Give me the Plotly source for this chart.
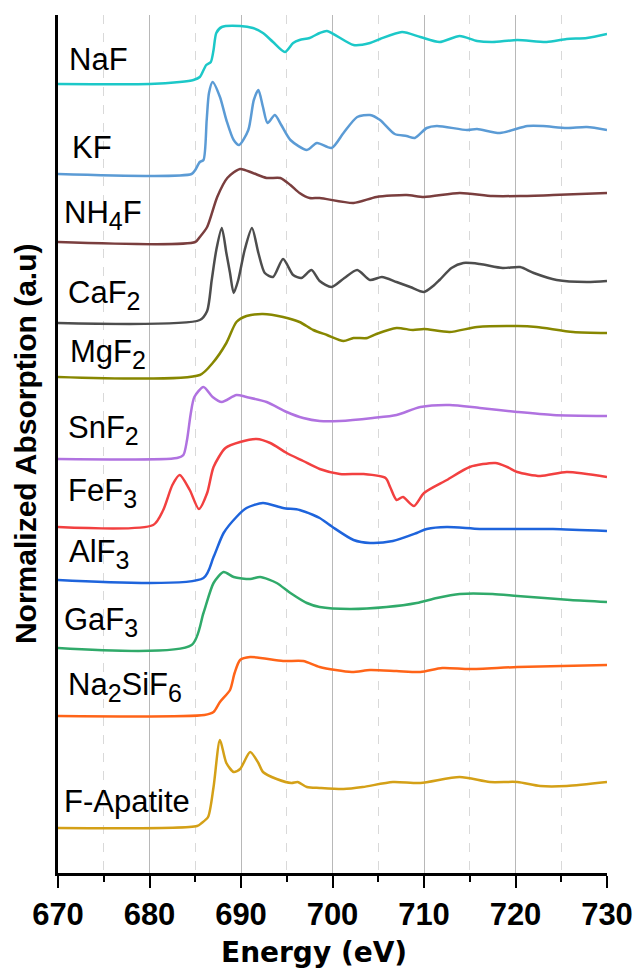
import plotly.graph_objects as go

# ---------------- data (energy in eV, normalized absorption relative to baseline) ----------------
SUB = '<sub><span style="font-size:25px">{}</span></sub>'
names = ['NaF', 'KF', 'NH' + SUB.format(4) + 'F', 'CaF' + SUB.format(2), 'MgF' + SUB.format(2),
         'SnF' + SUB.format(2), 'FeF' + SUB.format(3), 'AlF' + SUB.format(3), 'GaF' + SUB.format(3),
         'Na' + SUB.format(2) + 'SiF' + SUB.format(6), 'F-Apatite']
colors = ['#1CC8C8', '#5B9BD5', '#7A3E3E', '#4D4D4D', '#878700', '#B072E0',
          '#F24040', '#1E64DC', '#30AA6A', '#FF6418', '#D4A017']
offsets = [7.89, 6.99, 6.31, 5.50, 4.96, 4.14, 3.46, 2.93, 2.25, 1.57, 0.45]

naf_e = [670, 680, 683.3, 684.8, 685.5, 686.2, 686.7, 687.0, 687.3, 687.9, 689.9, 691.3, 692.4, 693.5, 694.8,
         695.7, 696.4, 697.5, 698.6, 699.4, 702.3, 704.1, 705.2, 707.6, 709.6, 711.7, 713.9, 715.8, 717.5,
         720.2, 723.4, 725.6, 727.8, 730]
naf_i = [0, 0, 0.02, 0.04, 0.07, 0.19, 0.22, 0.34, 0.51, 0.57, 0.58, 0.56, 0.51, 0.42, 0.32,
         0.41, 0.44, 0.46, 0.51, 0.53, 0.39, 0.41, 0.45, 0.52, 0.47, 0.42, 0.48, 0.43, 0.42,
         0.44, 0.42, 0.45, 0.46, 0.50]

kf_e = [670, 684.6, 685.0, 685.5, 685.9, 686.25, 686.5, 686.9, 687.7, 688.4, 689.2, 689.8, 690.8, 691.4,
        691.9, 692.4, 692.9, 693.7, 694.4, 695.4, 697.2, 698.3, 699.9, 701.2, 702.7, 704.1, 705.2, 706.8,
        708.1, 709.0, 710.3, 711.4, 714.7, 715.8, 718.3, 721.3, 723.0, 725.6, 727.8, 730]
kf_i = [0, 0, 0.04, 0.12, 0.14, 0.54, 0.81, 0.92, 0.77, 0.54, 0.34, 0.29, 0.44, 0.74,
        0.84, 0.67, 0.51, 0.59, 0.49, 0.34, 0.24, 0.31, 0.26, 0.41, 0.57, 0.59, 0.54, 0.40,
        0.38, 0.36, 0.46, 0.48, 0.44, 0.45, 0.41, 0.48, 0.48, 0.46, 0.47, 0.44]

nh4f_e = [670, 685.0, 685.5, 686.3, 687.4, 688.5, 689.9, 691.3, 692.8, 694.3, 695.4, 696.4, 697.5, 698.6,
          702.3, 704.8, 708.1, 710.0, 713.9, 717.5, 720.5, 724.1, 730]
nh4f_i = [0, 0, 0.05, 0.15, 0.45, 0.64, 0.73, 0.69, 0.64, 0.64, 0.57, 0.49, 0.44, 0.44,
          0.39, 0.45, 0.47, 0.45, 0.49, 0.46, 0.46, 0.47, 0.49]

caf2_e = [670, 685.5, 686.3, 686.8, 687.3, 687.9, 688.4, 688.8, 689.2, 689.7, 690.4, 691.2, 691.9, 692.6,
          693.5, 694.6, 695.7, 696.6, 697.7, 698.6, 699.9, 701.3, 702.7, 704.1, 705.4, 707.0, 708.5, 710.0,
          711.0, 711.7, 713.0, 714.3, 716.1, 718.6, 720.5, 722.0, 724.5, 727.8, 730]
caf2_i = [0, 0.03, 0.12, 0.43, 0.73, 0.95, 0.70, 0.50, 0.30, 0.43, 0.73, 0.95, 0.70, 0.50,
          0.46, 0.64, 0.48, 0.45, 0.53, 0.42, 0.36, 0.45, 0.53, 0.43, 0.46, 0.41, 0.36, 0.31,
          0.37, 0.43, 0.55, 0.60, 0.59, 0.55, 0.56, 0.50, 0.43, 0.41, 0.42]

mgf2_e = [670, 685.5, 686.9, 688.4, 689.5, 690.6, 692.4, 694.6, 696.4, 697.9, 699.4, 701.2, 702.3, 703.8,
          704.8, 707.0, 708.8, 710.0, 712.8, 715.8, 720.2, 722.3, 726.3, 730]
mgf2_i = [0, 0.02, 0.14, 0.34, 0.55, 0.61, 0.63, 0.60, 0.55, 0.47, 0.42, 0.36, 0.39, 0.39,
          0.43, 0.49, 0.47, 0.48, 0.45, 0.50, 0.51, 0.50, 0.45, 0.44]

snf2_e = [670, 683.0, 683.7, 684.1, 684.5, 684.9, 685.9, 686.9, 687.9, 689.5, 690.6, 692.8, 695.0, 696.8,
          698.6, 700.8, 704.4, 707.0, 709.6, 712.8, 716.1, 720.2, 724.1, 730]
snf2_i = [0, 0.01, 0.04, 0.19, 0.45, 0.62, 0.72, 0.62, 0.57, 0.64, 0.62, 0.57, 0.47, 0.41,
          0.38, 0.38, 0.41, 0.44, 0.52, 0.54, 0.51, 0.47, 0.44, 0.43]

fef3_e = [670, 680.4, 681.5, 682.5, 683.3, 684.4, 685.4, 686.3, 687.0, 688.3, 689.9, 691.7, 693.2, 695.0,
          696.8, 698.6, 700.8, 703.4, 705.8, 706.3, 707.0, 707.7, 708.9, 710.0, 712.5, 715.0, 717.8, 719.1,
          720.2, 722.7, 725.6, 730]
fef3_i = [0, 0.02, 0.17, 0.42, 0.52, 0.37, 0.18, 0.34, 0.60, 0.79, 0.85, 0.88, 0.84, 0.74,
          0.66, 0.58, 0.53, 0.53, 0.49, 0.40, 0.27, 0.30, 0.21, 0.34, 0.47, 0.60, 0.64, 0.60,
          0.55, 0.51, 0.55, 0.50]

alf3_e = [670, 685.9, 687.0, 688.1, 689.5, 690.6, 692.4, 694.6, 696.4, 697.9, 698.6, 700.0, 702.3, 704.1,
          706.6, 709.2, 710.3, 712.5, 716.1, 720.2, 724.1, 730]
alf3_i = [0, 0.02, 0.23, 0.47, 0.63, 0.72, 0.77, 0.72, 0.70, 0.65, 0.62, 0.53, 0.40, 0.37,
          0.39, 0.47, 0.51, 0.53, 0.51, 0.51, 0.51, 0.49]

gaf3_e = [670, 684.6, 685.9, 687.0, 688.1, 689.2, 691.0, 692.1, 693.9, 695.4, 697.2, 698.6, 701.9, 705.9,
          709.2, 711.4, 713.9, 717.5, 720.2, 726.0, 730]
gaf3_i = [0, 0.03, 0.35, 0.65, 0.76, 0.71, 0.69, 0.71, 0.65, 0.55, 0.45, 0.41, 0.39, 0.41,
          0.45, 0.50, 0.54, 0.54, 0.52, 0.48, 0.46]

na2sif6_e = [670, 686.0, 687.0, 687.7, 688.8, 689.3, 689.9, 691.0, 694.6, 696.8, 698.6, 702.1, 704.1,
             707.0, 709.6, 712.0, 715.0, 720.2, 730]
na2sif6_i = [0, 0.01, 0.04, 0.14, 0.26, 0.43, 0.56, 0.59, 0.55, 0.55, 0.49, 0.44, 0.46,
             0.45, 0.44, 0.48, 0.47, 0.49, 0.51]

fap_e = [670, 685.2, 685.7, 686.4, 687.0, 687.7, 688.4, 689.2, 689.9, 691.0, 691.9, 692.4, 693.9, 695.5,
         696.2, 697.2, 698.6, 701.2, 703.3, 706.6, 709.6, 713.9, 717.2, 720.2, 722.7, 725.6, 730]
fap_i = [0, 0.02, 0.05, 0.11, 0.41, 0.88, 0.65, 0.56, 0.59, 0.76, 0.65, 0.56, 0.49, 0.45,
         0.46, 0.41, 0.40, 0.39, 0.41, 0.46, 0.45, 0.51, 0.46, 0.46, 0.42, 0.42, 0.46]

energies = [naf_e, kf_e, nh4f_e, caf2_e, mgf2_e, snf2_e, fef3_e, alf3_e, gaf3_e, na2sif6_e, fap_e]
intens = [naf_i, kf_i, nh4f_i, caf2_i, mgf2_i, snf2_i, fef3_i, alf3_i, gaf3_i, na2sif6_i, fap_i]

# label anchor: left energy, vertical centre (a.u.)
label_x = [671.0, 671.3, 670.45, 670.9, 671.1, 670.9, 670.9, 671.0, 670.45, 670.9, 670.45]
label_y = [8.14, 7.26, 6.58, 5.78, 5.19, 4.43, 3.80, 3.19, 2.51, 1.86, 0.72]

x_ticks = [670, 680, 690, 700, 710, 720, 730]
grid_major = [680, 690, 700, 710, 720]
grid_minor = [675, 685, 695, 705, 715, 725]

FONT = 'Arial, Liberation Sans, sans-serif'

fig = go.Figure()

# invisible trace that carries the grid axis
fig.add_trace(go.Scatter(x=[670], y=[0], xaxis='x2', yaxis='y', mode='markers',
                         marker=dict(opacity=0), hoverinfo='skip', showlegend=False))

for e, i, off, c in zip(energies, intens, offsets, colors):
    assert len(e) == len(i)
    fig.add_trace(go.Scatter(x=e, y=[off + v for v in i], mode='lines',
                             line=dict(color=c, width=2.5, shape='spline', smoothing=0.7),
                             hoverinfo='skip', showlegend=False))

for n, lx, ly in zip(names, label_x, label_y):
    fig.add_annotation(x=lx, y=ly, xref='x', yref='y', text=n, showarrow=False,
                       xanchor='left', yanchor='middle',
                       font=dict(family=FONT, size=31, color='black'))

fig.add_annotation(text='Normalized Absorption (a.u)', textangle=-90, xref='paper', yref='paper',
                   x=-0.060, y=0.5, xanchor='center', yanchor='middle', showarrow=False,
                   font=dict(family=FONT, size=30, color='black', weight='bold'))
fig.add_annotation(text='Energy (eV)', xref='paper', yref='paper',
                   x=0.4654, y=-0.0921, xanchor='center', yanchor='middle', showarrow=False,
                   font=dict(family='DejaVu Sans, Verdana, sans-serif', size=28, color='black',
                             weight='bold'))

fig.update_layout(
    width=634, height=969, autosize=False,
    margin=dict(l=58, r=27, t=15, b=96),
    plot_bgcolor='white', paper_bgcolor='white',
    xaxis=dict(range=[670, 730], tickmode='array', tickvals=x_ticks, automargin=False,
               ticks='outside', ticklen=12, tickwidth=2, tickcolor='black',
               showline=True, linecolor='black', linewidth=2.5,
               showgrid=False, zeroline=False,
               tickfont=dict(family=FONT, size=31, color='black', weight='bold'),
               minor=dict(tickmode='linear', tick0=670, dtick=5, ticks='outside', ticklen=6,
                          tickwidth=2, tickcolor='black', showgrid=False)),
    xaxis2=dict(range=[670, 730], overlaying='x', side='bottom', tickmode='array',
                tickvals=grid_major, ticks='', showticklabels=False, showline=False,
                automargin=False,
                showgrid=True, gridcolor='#b8b8b8', gridwidth=1.3, zeroline=False,
                minor=dict(tickmode='array', tickvals=grid_minor, ticks='', showgrid=True,
                           griddash='dash', gridcolor='#d9d9d9', gridwidth=1)),
    yaxis=dict(range=[0, 8.58], showline=True, linecolor='black', linewidth=2.5, automargin=False,
               ticks='', showticklabels=False, showgrid=False, zeroline=False),
)

fig.write_html('out.html', config={'responsive': False})
